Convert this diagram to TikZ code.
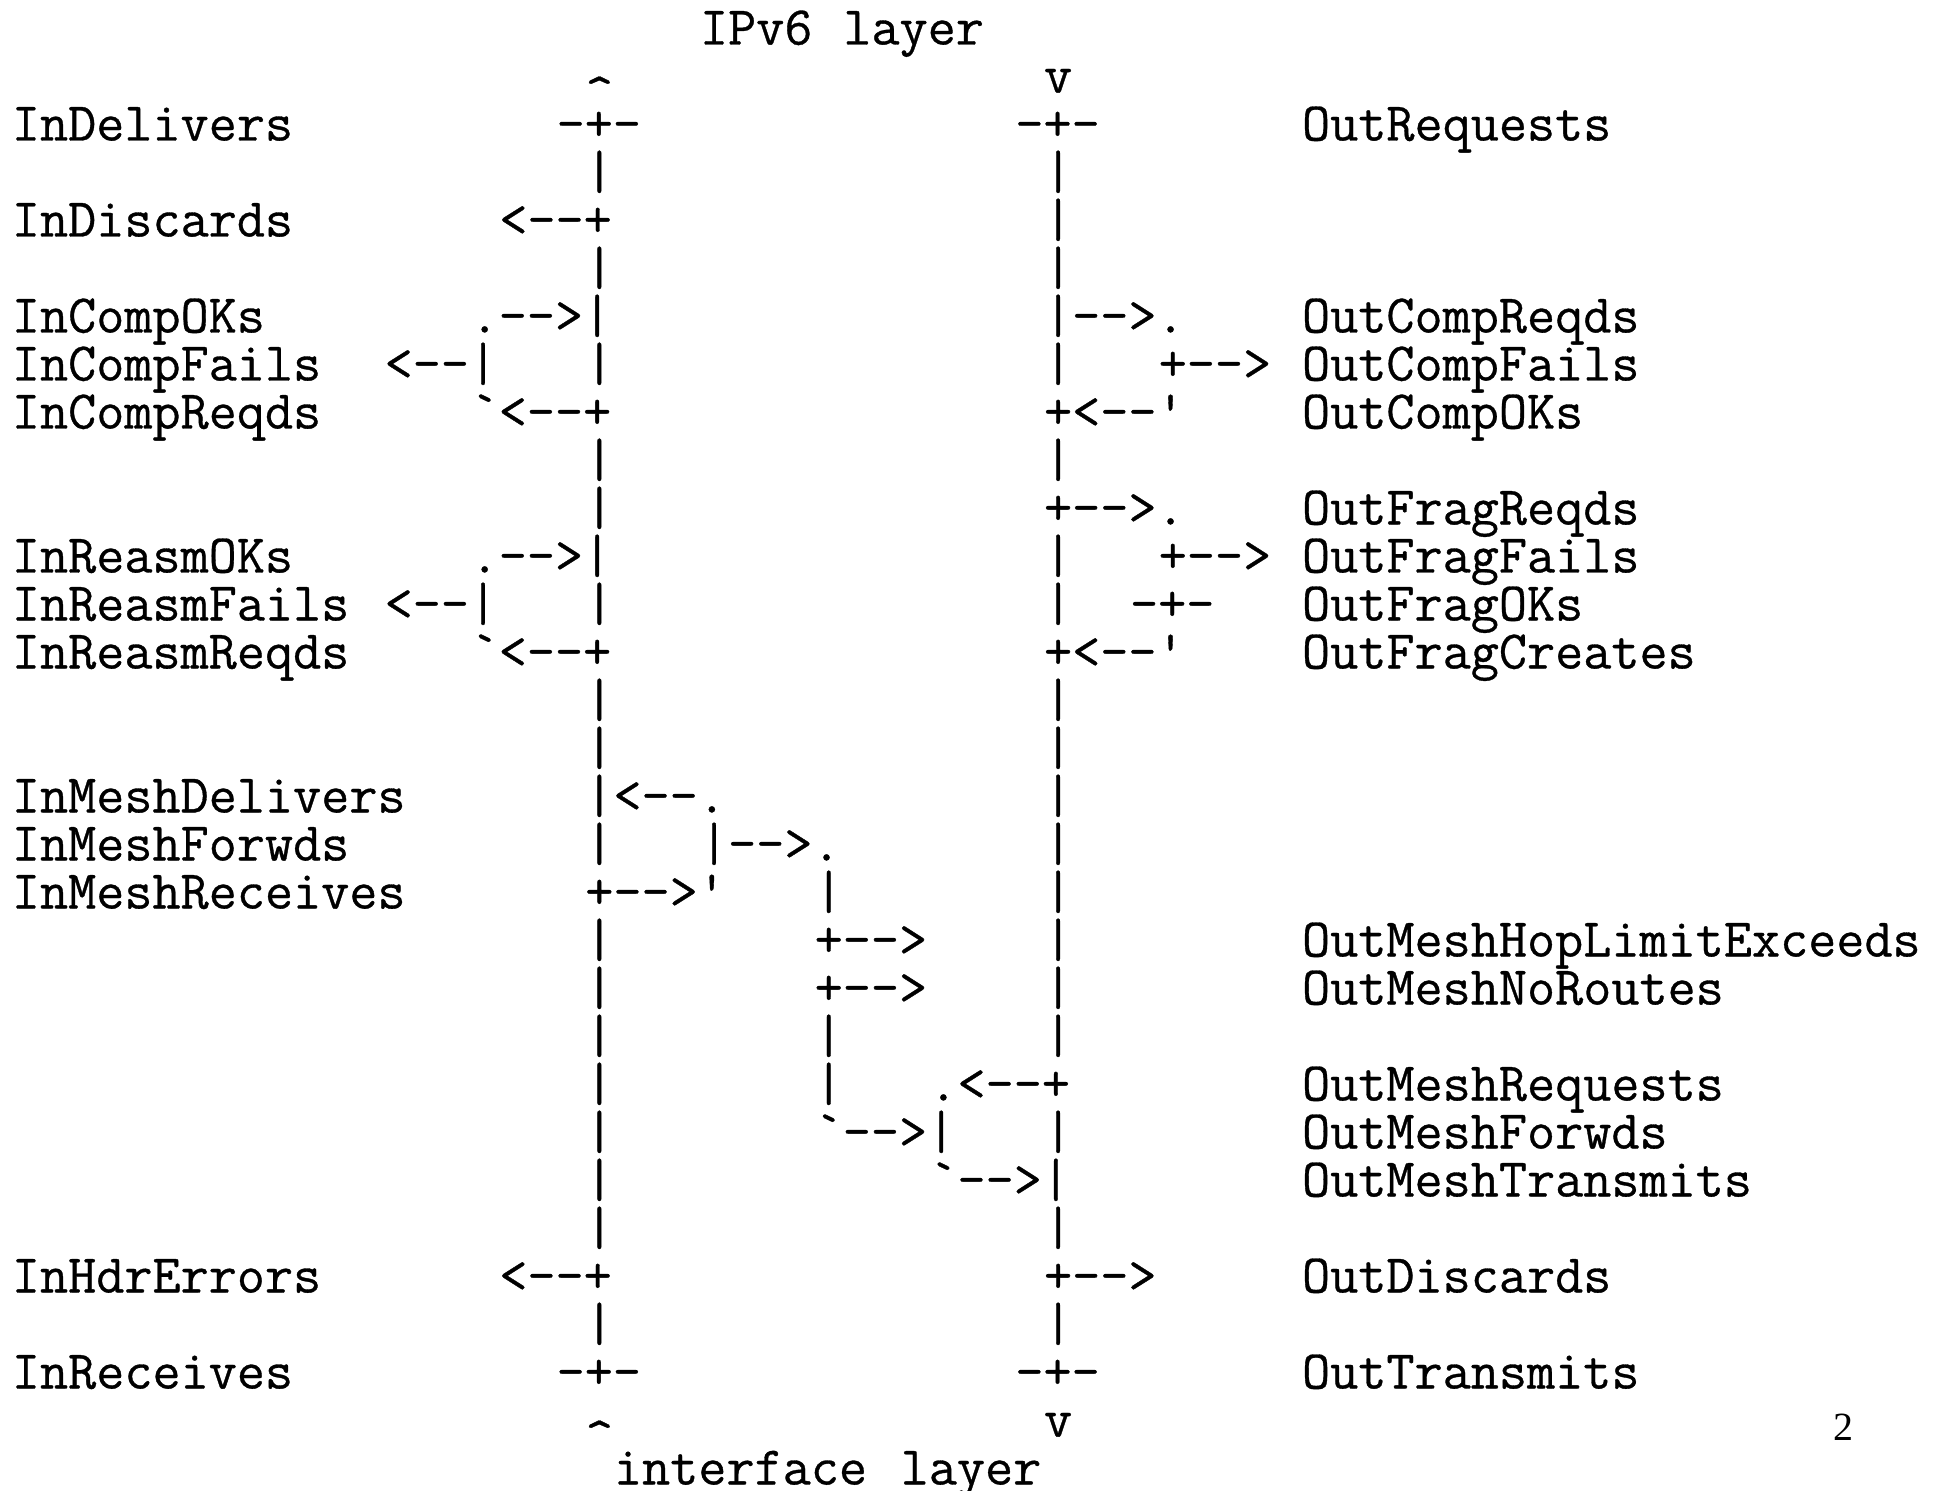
\documentclass[tikz,border=0pt]{standalone}
\usepackage{fontspec}
\newfontfamily\asciifont{Latin Modern Mono}[AutoFakeBold=0.6]
\newfontfamily\pagefont{Liberation Serif}
\newcommand\asc[3]{\node[ascii] (r#1c#2) at ({11.9+#2*28.67},{44.5+#1*48}) {#3};}
\newcommand\upc{\textasciicircum}
\newcommand\grv{\textasciigrave}
\newcommand\apo{\textquotesingle}
\begin{document}
\begin{tikzpicture}[x=0.5pt,y=-0.5pt,
  ascii/.style={anchor=base west,inner sep=0pt,outer sep=0pt,
    font=\asciifont\bfseries\fontsize{27.3}{24}\selectfont},
  caret/.style={ascii,yshift=-9pt}]
\useasboundingbox (0,0) rectangle (1946,1491);
% row 0
\asc{0}{24}{IPv6}\asc{0}{29}{layer}
% row 1
\node[caret] (r1c20) at ({11.9+20*28.67},{44.5+1*48}) {\upc};
\asc{1}{36}{v}
% row 2
\asc{2}{0}{InDelivers}\asc{2}{19}{-+-}\asc{2}{35}{-+-}\asc{2}{45}{OutRequests}
% row 3
\asc{3}{20}{|}\asc{3}{36}{|}
% row 4
\asc{4}{0}{InDiscards}\asc{4}{17}{<--+}\asc{4}{36}{|}
% row 5
\asc{5}{20}{|}\asc{5}{36}{|}
% row 6
\asc{6}{0}{InCompOKs}\asc{6}{16}{.-->|}\asc{6}{36}{|-->.}\asc{6}{45}{OutCompReqds}
% row 7
\asc{7}{0}{InCompFails}\asc{7}{13}{<--|}\asc{7}{20}{|}\asc{7}{36}{|}\asc{7}{40}{+-->}\asc{7}{45}{OutCompFails}
% row 8
\asc{8}{0}{InCompReqds}\asc{8}{16}{\grv<--+}\asc{8}{36}{+<--\apo}\asc{8}{45}{OutCompOKs}
% row 9
\asc{9}{20}{|}\asc{9}{36}{|}
% row 10
\asc{10}{20}{|}\asc{10}{36}{+-->.}\asc{10}{45}{OutFragReqds}
% row 11
\asc{11}{0}{InReasmOKs}\asc{11}{16}{.-->|}\asc{11}{36}{|}\asc{11}{40}{+-->}\asc{11}{45}{OutFragFails}
% row 12
\asc{12}{0}{InReasmFails}\asc{12}{13}{<--|}\asc{12}{20}{|}\asc{12}{36}{|}\asc{12}{39}{-+-}\asc{12}{45}{OutFragOKs}
% row 13
\asc{13}{0}{InReasmReqds}\asc{13}{16}{\grv<--+}\asc{13}{36}{+<--\apo}\asc{13}{45}{OutFragCreates}
% row 14-15
\asc{14}{20}{|}\asc{14}{36}{|}
\asc{15}{20}{|}\asc{15}{36}{|}
% row 16
\asc{16}{0}{InMeshDelivers}\asc{16}{20}{|<--.}\asc{16}{36}{|}
% row 17
\asc{17}{0}{InMeshForwds}\asc{17}{20}{|}\asc{17}{24}{|-->.}\asc{17}{36}{|}
% row 18
\asc{18}{0}{InMeshReceives}\asc{18}{20}{+-->\apo}\asc{18}{28}{|}\asc{18}{36}{|}
% row 19
\asc{19}{20}{|}\asc{19}{28}{+-->}\asc{19}{36}{|}\asc{19}{45}{OutMeshHopLimitExceeds}
% row 20
\asc{20}{20}{|}\asc{20}{28}{+-->}\asc{20}{36}{|}\asc{20}{45}{OutMeshNoRoutes}
% row 21
\asc{21}{20}{|}\asc{21}{28}{|}\asc{21}{36}{|}
% row 22
\asc{22}{20}{|}\asc{22}{28}{|}\asc{22}{32}{.<--+}\asc{22}{45}{OutMeshRequests}
% row 23
\asc{23}{20}{|}\asc{23}{28}{\grv-->|}\asc{23}{36}{|}\asc{23}{45}{OutMeshForwds}
% row 24
\asc{24}{20}{|}\asc{24}{32}{\grv-->|}\asc{24}{45}{OutMeshTransmits}
% row 25
\asc{25}{20}{|}\asc{25}{36}{|}
% row 26
\asc{26}{0}{InHdrErrors}\asc{26}{17}{<--+}\asc{26}{36}{+-->}\asc{26}{45}{OutDiscards}
% row 27
\asc{27}{20}{|}\asc{27}{36}{|}
% row 28
\asc{28}{0}{InReceives}\asc{28}{19}{-+-}\asc{28}{35}{-+-}\asc{28}{45}{OutTransmits}
% row 29
\node[caret] (r29c20) at ({11.9+20*28.67},{44.5+29*48}) {\upc};
\asc{29}{36}{v}
% row 30
\asc{30}{21}{interface}\asc{30}{31}{layer}
% page number
\node[anchor=base,inner sep=0pt,font=\pagefont\fontsize{20}{24}\selectfont] (pagenum) at (1843,1440) {2};
\end{tikzpicture}
\end{document}
